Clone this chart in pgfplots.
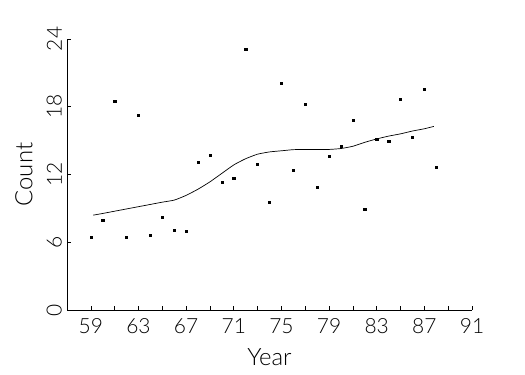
\documentclass[border=0pt]{standalone}
\usepackage{fontspec}
\setmainfont{Lato Light}
\usepackage{pgfplots}
\pgfplotsset{compat=1.18}
\usetikzlibrary{calc}
\begin{document}
\begin{tikzpicture}
\path[use as bounding box] (0,0) rectangle (525bp,375bp);
\begin{axis}[
  name=ax,
  at={(67bp,65bp)}, anchor=south west,
  scale only axis, width=405bp, height=271bp,
  xmin=57, xmax=91, ymin=0, ymax=24,
  axis lines=left,
  axis line style={-, line width=0.9bp},
  xtick={59,63,...,91}, minor xtick={61,65,...,89},
  ytick={0,6,12,18,24},
  tick align=inside,
  major tick length=4bp, minor tick length=4bp,
  tick style={line width=0.6bp, black},
  /pgf/number format/assume math mode=true,
  tick label style={font=\fontsize{21}{24}\selectfont},
  xticklabel style={anchor=north, inner sep=0pt, yshift=-8bp},
  yticklabel style={xshift=-5bp, rotate=90, anchor=south, inner sep=0pt},
  clip=false,
]
\addplot[only marks, mark=square*, mark size=1.1bp, black] coordinates {
(59,6.43) (60,7.94) (61,18.52) (62,6.43) (63,17.23) (64,6.61) (65,8.2) (66,7.05)
(67,6.96) (68,13.07) (69,13.69) (70,11.3) (71,11.68) (72,23.07) (73,12.92) (74,9.53)
(75,20.09) (76,12.39) (77,18.2) (78,10.91) (79,13.6) (80,14.49) (81,16.81) (82,8.91)
(83,15.13) (84,14.93) (85,18.67) (86,15.31) (87,19.53) (88,12.63)
};
\addplot[black, line width=0.7bp, smooth, tension=0.3] coordinates {
(59.2,8.4) (60,8.55) (61,8.75) (62,8.95) (63,9.15) (64,9.35) (65,9.55) (66,9.73)
(67,10.15) (68,10.7) (69,11.35) (70,12.1) (71,12.85) (72,13.4) (73,13.8) (74,14.0)
(75,14.1) (76,14.2) (77,14.22) (78,14.22) (79,14.22) (80,14.3) (81,14.5) (82,14.85)
(83,15.15) (84,15.4) (85,15.6) (86,15.85) (87,16.05) (87.8,16.26)
};
\end{axis}
\node[font=\fontsize{24}{28}\selectfont, anchor=center] at ($(ax.south)+(0,-47bp)$) {Year};
\node[font=\fontsize{24}{28}\selectfont, anchor=center, rotate=90] at ($(ax.west)+(-43bp,0)$) {Count};
\end{tikzpicture}
\end{document}
